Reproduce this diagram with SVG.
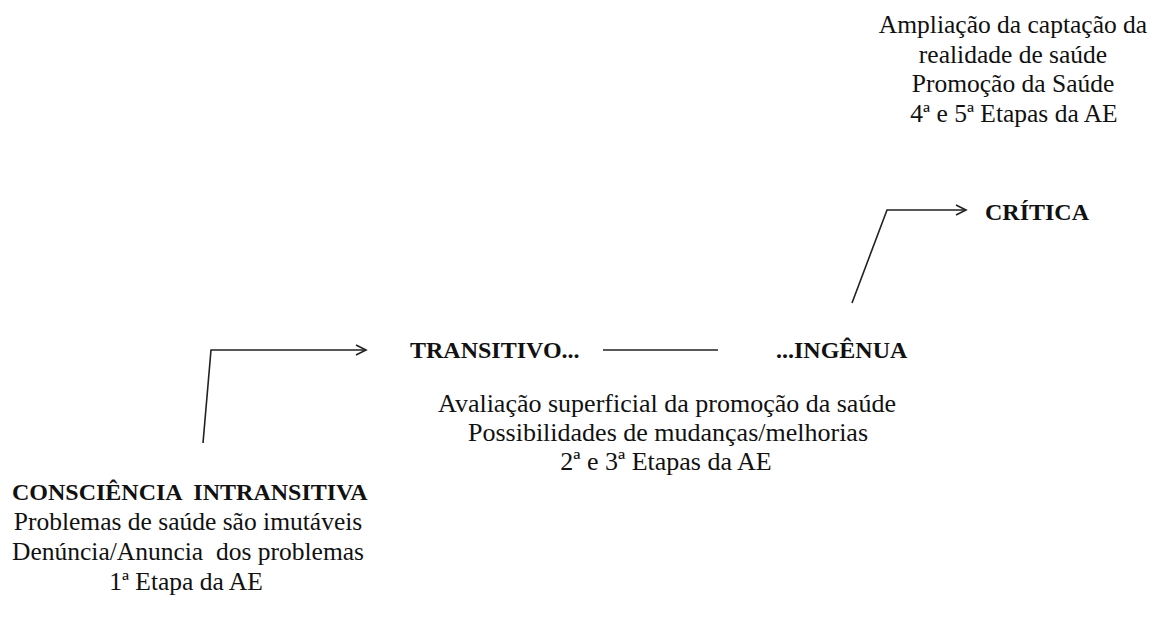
<svg xmlns="http://www.w3.org/2000/svg" width="1160" height="617" viewBox="0 0 1160 617">
<defs>
<style>
text{font-family:'Liberation Serif','DejaVu Serif',serif;fill:#111}
.t{font-size:25.5px}
.m{font-size:26px}
.b{font-size:24px;font-weight:bold}
.c{text-anchor:middle}
.ln{fill:none;stroke:#222;stroke-width:1.6}
</style>
<marker id="ah" markerUnits="userSpaceOnUse" markerWidth="14" markerHeight="14" refX="11" refY="6" orient="auto">
<path d="M1,1 L11,6 L1,11" fill="none" stroke="#222" stroke-width="1.6"/>
</marker>
</defs>
<rect width="1160" height="617" fill="#fff"/>
<g id="connectors">
<path class="ln" d="M203,443 L211,350 L366,350" marker-end="url(#ah)"/>
<path class="ln" d="M603,350 L718,350"/>
<path class="ln" d="M852,303 L887,210 L966,210" marker-end="url(#ah)"/>
</g>
<g id="node-intransitiva">
<text class="b" x="12" y="500" xml:space="preserve">CONSCIÊNCIA  INTRANSITIVA</text>
<text class="t c" x="188" y="530">Problemas de saúde são imutáveis</text>
<text class="t c" x="188" y="560" xml:space="preserve">Denúncia/Anuncia  dos problemas</text>
<text class="t c" x="186" y="590">1ª Etapa da AE</text>
</g>
<g id="node-transitivo">
<text class="b" x="410" y="358">TRANSITIVO...</text>
</g>
<g id="node-ingenua">
<text class="b" x="776" y="358">...INGÊNUA</text>
<text class="m c" x="667" y="412">Avaliação superficial da promoção da saúde</text>
<text class="m c" x="668" y="441">Possibilidades de mudanças/melhorias</text>
<text class="m c" x="666" y="470">2ª e 3ª Etapas da AE</text>
</g>
<g id="node-critica">
<text class="b" x="985" y="220">CRÍTICA</text>
<text class="t c" x="1013" y="33">Ampliação da captação da</text>
<text class="t c" x="1013" y="63">realidade de saúde</text>
<text class="t c" x="1013" y="92">Promoção da Saúde</text>
<text class="t c" x="1014" y="122">4ª e 5ª Etapas da AE</text>
</g>
</svg>
